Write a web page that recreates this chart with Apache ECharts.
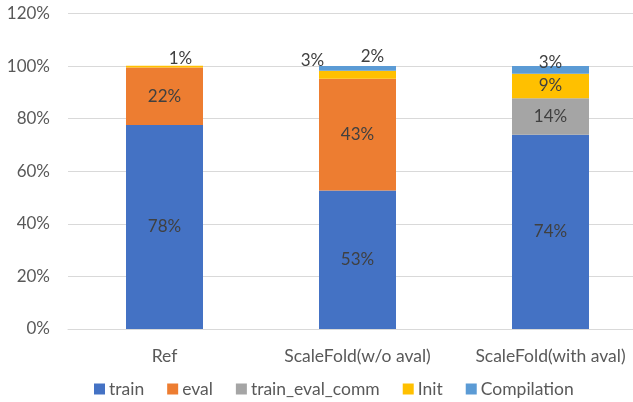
<!DOCTYPE html>
<html>
<head>
<meta charset="utf-8">
<script src="https://cdn.jsdelivr.net/npm/echarts@6/dist/echarts.min.js"></script>
<style>
html,body{margin:0;padding:0;background:#fff;}
#c{width:633px;height:402px;}
</style>
</head>
<body>
<div id="c"></div>
<script>
const categories = ['Ref', 'ScaleFold(w/o aval)', 'ScaleFold(with aval)'];
const seriesNames = ['train', 'eval', 'train_eval_comm', 'Init', 'Compilation'];
const train = [77.6, 52.7, 73.9];
const evalv = [21.9, 42.5, null];
const trainEvalComm = [null, null, 13.9];
const init = [0.6, 3.0, 9.3];
const compilation = [null, 1.8, 2.9];
const yTicks = [0, 20, 40, 60, 80, 100, 120];

const colors = ['#4472C4', '#ED7D31', '#A5A5A5', '#FFC000', '#5B9BD5'];
const values = [train, evalv, trainEvalComm, init, compilation];
const FONT = 'Lato';

// label placement tweaks for thin segments (series index -> category index -> offset)
const labelOffsets = {
  3: {0: [16, -8], 1: [-45, -14]},
  4: {1: [15, -12], 2: [0, -7]}
};

const series = seriesNames.map((name, si) => ({
  name: name,
  type: 'bar',
  stack: 'total',
  barWidth: 77,
  itemStyle: {color: colors[si]},
  label: {
    show: true,
    position: 'inside',
    color: '#404040',
    fontFamily: FONT,
    fontSize: 17,
    formatter: p => (p.value == null ? '' : Math.round(p.value) + '%')
  },
  data: values[si].map((v, ci) => {
    const off = labelOffsets[si] && labelOffsets[si][ci];
    if (off && v != null) {
      return {value: v, label: {offset: off}};
    }
    return v;
  })
}));

const chart = echarts.init(document.getElementById('c'), null, {renderer: 'canvas'});
chart.setOption({
  animation: false,
  backgroundColor: '#fff',
  grid: {left: 68, width: 579, top: 13.5, bottom: 73, containLabel: false, outerBoundsMode: 'none'},
  legend: {
    data: seriesNames,
    bottom: -1,
    left: 89,
    itemWidth: 11,
    itemHeight: 11,
    itemGap: 23,
    icon: 'rect',
    textStyle: {fontFamily: FONT, fontSize: 17.5, color: '#595959', padding: [0, 0, 0, -1]}
  },
  xAxis: {
    type: 'category',
    data: categories,
    axisLine: {lineStyle: {color: '#d9d9d9'}},
    axisTick: {show: false},
    axisLabel: {fontFamily: FONT, fontSize: 17.5, color: '#595959', margin: 18, interval: 0, hideOverlap: false}
  },
  yAxis: {
    type: 'value',
    min: yTicks[0],
    max: yTicks[yTicks.length - 1],
    interval: 20,
    axisLine: {show: false},
    axisTick: {show: false},
    splitLine: {lineStyle: {color: '#d9d9d9'}},
    axisLabel: {fontFamily: FONT, fontSize: 17, color: '#595959', margin: 18, formatter: v => v + '%'}
  },
  series: series
});
</script>
</body>
</html>
